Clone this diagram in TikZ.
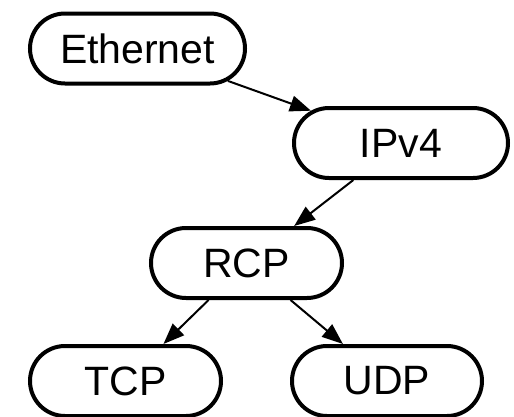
\documentclass[tikz,border=0pt]{standalone}
\usepackage{fontspec}
\setmainfont{Liberation Sans}
\usetikzlibrary{shapes.misc,arrows.meta}

\begin{document}
\begin{tikzpicture}[x=1pt,y=-1pt,
  proto/.style={rounded rectangle, draw=black, line width=4pt, fill=white,
    minimum height=70pt, inner sep=0pt,
    font=\fontsize{41}{41}\selectfont},
  link/.style={line width=2pt, -{Triangle[length=21pt,width=16pt]}}]
  \useasboundingbox (0,0) rectangle (514,416);
  \clip (0,0) rectangle (514,416);

  \node[proto, minimum width=215pt] (eth) at (137.5,48.5) {Ethernet};
  \node[proto, minimum width=214pt] (ip)  at (401,143)    {IPv4};
  \node[proto, minimum width=191pt] (rcp) at (246.5,263)  {RCP};
  \node[proto, minimum width=191pt] (tcp) at (125.5,381)  {TCP};
  \node[proto, minimum width=190pt] (udp) at (387,381)    {UDP};

  \draw[link] (eth) -- (ip);
  \draw[link] (ip)  -- (rcp);
  \draw[link] (rcp) -- (tcp);
  \draw[link] (rcp) -- (udp);
\end{tikzpicture}
\end{document}
